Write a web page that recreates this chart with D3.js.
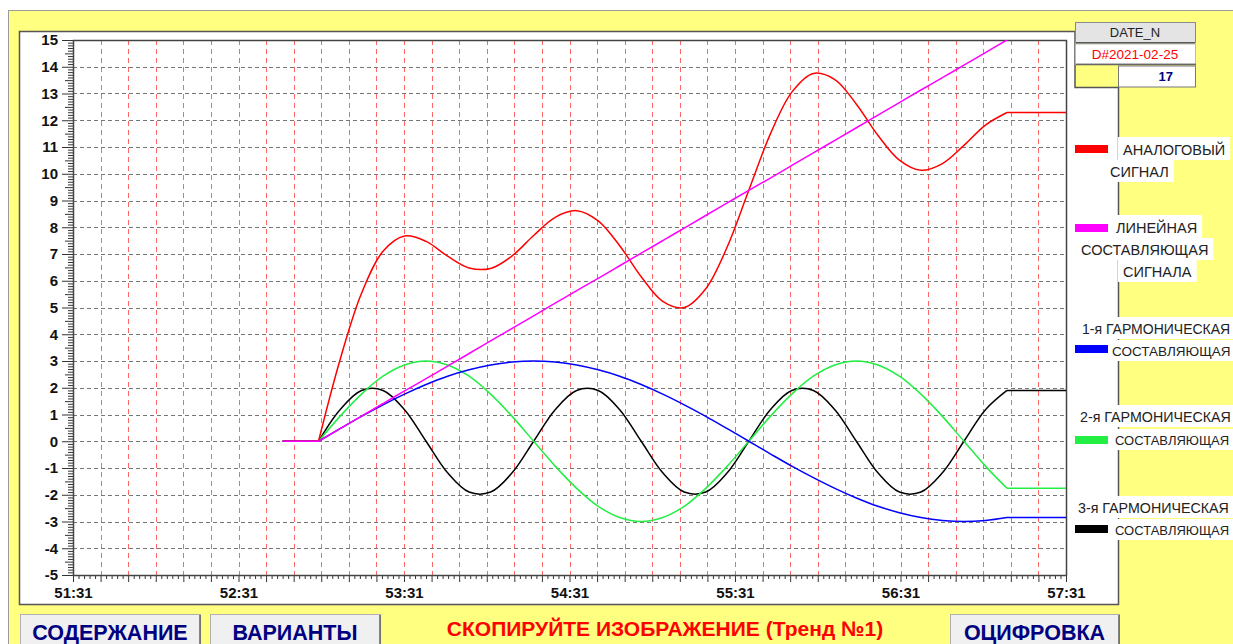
<!DOCTYPE html>
<html>
<head>
<meta charset="utf-8">
<script src="https://cdn.jsdelivr.net/npm/d3@7/dist/d3.min.js"></script>
<style>
  html, body { margin: 0; padding: 0; background: #ffffff; }
  svg { display: block; font-family: "Liberation Sans", Arial, sans-serif; }
</style>
</head>
<body>
<svg id="chart" width="1233" height="644"></svg>
<script>
// ---- data (seconds after 51:31) ----
const timeSec = [89, 96.8, 104.6, 112.4, 120.2, 128, 135.8, 143.6, 151.4, 159.2, 167, 174.8, 182.6, 190.4, 198.2, 206, 213.8, 221.6, 229.4, 237.2, 245, 252.8, 260.6, 268.4, 276.2, 284, 291.8, 299.6, 307.4, 315.2, 323, 330.8, 338.6];
const analog = [0, 3.04, 5.53, 7.10, 7.67, 7.47, 6.92, 6.48, 6.46, 6.93, 7.69, 8.37, 8.62, 8.24, 7.31, 6.15, 5.23, 5.00, 5.70, 7.27, 9.38, 11.48, 13.05, 13.75, 13.52, 12.60, 11.44, 10.51, 10.13, 10.38, 11.06, 11.82, 12.29];
const linear = [0, 0.47, 0.94, 1.41, 1.88, 2.34, 2.81, 3.28, 3.75, 4.22, 4.69, 5.16, 5.63, 6.09, 6.56, 7.03, 7.50, 7.97, 8.44, 8.91, 9.38, 9.84, 10.31, 10.78, 11.25, 11.72, 12.19, 12.66, 13.13, 13.59, 14.06, 14.53, 15.00];
const harm1 = [0, 0.47, 0.93, 1.36, 1.76, 2.12, 2.43, 2.67, 2.85, 2.96, 3.00, 2.96, 2.85, 2.67, 2.43, 2.12, 1.76, 1.36, 0.93, 0.47, 0, -0.47, -0.93, -1.36, -1.76, -2.12, -2.43, -2.67, -2.85, -2.96, -3.00, -2.96, -2.85];
const harm2 = [0, 0.93, 1.76, 2.43, 2.85, 3.00, 2.85, 2.43, 1.76, 0.93, 0, -0.93, -1.76, -2.43, -2.85, -3.00, -2.85, -2.43, -1.76, -0.93, 0, 0.93, 1.76, 2.43, 2.85, 3.00, 2.85, 2.43, 1.76, 0.93, 0, -0.93, -1.76];
const harm3 = [0, 1.18, 1.90, 1.90, 1.18, 0, -1.18, -1.90, -1.90, -1.18, 0, 1.18, 1.90, 1.90, 1.18, 0, -1.18, -1.90, -1.90, -1.18, 0, 1.18, 1.90, 1.90, 1.18, 0, -1.18, -1.90, -1.90, -1.18, 0, 1.18, 1.90];
const leadInStart = 76;
const holdEnd = 360;
const xTickLabels = ["51:31", "52:31", "53:31", "54:31", "55:31", "56:31", "57:31"];
const yTickLabels = ["-5","-4","-3","-2","-1","0","1","2","3","4","5","6","7","8","9","10","11","12","13","14","15"];

const seriesList = [
  { name: "harm3", values: harm3, color: "#000000", hold: true },
  { name: "harm2", values: harm2, color: "#22ee44", hold: true },
  { name: "harm1", values: harm1, color: "#0000ff", hold: true },
  { name: "analog", values: analog, color: "#ff0000", hold: true },
  { name: "linear", values: linear, color: "#ff00ff", hold: false }
];

const legendItems = [
  { color: "#ff0000", swatchY: 149, lines: [{ t: "АНАЛОГОВЫЙ", x: 1123, y: 155 }, { t: "СИГНАЛ", x: 1110, y: 177 }] },
  { color: "#ff00ff", swatchY: 228, lines: [{ t: "ЛИНЕЙНАЯ", x: 1116, y: 233 }, { t: "СОСТАВЛЯЮЩАЯ", x: 1081, y: 255 }, { t: "СИГНАЛА", x: 1123, y: 277 }] },
  { color: "#0000ff", swatchY: 349, lines: [{ t: "1-я ГАРМОНИЧЕСКАЯ", x: 1082, y: 334 }, { t: "СОСТАВЛЯЮЩАЯ", x: 1112, y: 356 }] },
  { color: "#22ee44", swatchY: 440, lines: [{ t: "2-я ГАРМОНИЧЕСКАЯ", x: 1080, y: 422 }, { t: "СОСТАВЛЯЮЩАЯ", x: 1115, y: 445 }] },
  { color: "#000000", swatchY: 529, lines: [{ t: "3-я ГАРМОНИЧЕСКАЯ", x: 1078, y: 513 }, { t: "СОСТАВЛЯЮЩАЯ", x: 1115, y: 535 }] }
];

// ---- layout ----
const svg = d3.select("#chart");
const W = 1233, H = 644;
const plot = { left: 73, right: 1066, top: 40, bottom: 575 };

// background
svg.append("rect").attr("x", 0).attr("y", 0).attr("width", W).attr("height", H).attr("fill", "#ffffff");
svg.append("rect").attr("x", 8.5).attr("y", 10.5).attr("width", W).attr("height", H).attr("fill", "#ffff80").attr("stroke", "#9a9a9a").attr("stroke-width", 1);

// white panel (with notch at top-right for DATE_N box)
svg.append("path")
  .attr("d", "M19.5,31.5 H1075 V87.5 H1118.5 V604.5 H19.5 Z")
  .attr("fill", "#ffffff").attr("stroke", "#555555").attr("stroke-width", 1.5);

const x = d3.scaleLinear().domain([0, 360]).range([plot.left, plot.right]);
const y = d3.scaleLinear().domain([-5, 15]).range([plot.bottom, plot.top]);

// grid
const g = svg.append("g");
g.selectAll("line.vg").data(d3.range(10, 360, 10)).join("line")
  .attr("x1", d => Math.round(x(d)) + 0.5).attr("x2", d => Math.round(x(d)) + 0.5)
  .attr("y1", plot.top).attr("y2", plot.bottom)
  .attr("stroke", "#ff6666").attr("stroke-width", 1).attr("stroke-dasharray", "5,4");
g.selectAll("line.hg").data(d3.range(-4, 15, 1)).join("line")
  .attr("x1", plot.left).attr("x2", plot.right)
  .attr("y1", d => Math.round(y(d)) + 0.5).attr("y2", d => Math.round(y(d)) + 0.5)
  .attr("stroke", "#777777").attr("stroke-width", 1).attr("stroke-dasharray", "4,3");

// axes
function styleAxis(sel) {
  sel.select(".domain").remove();
  sel.selectAll("line").attr("stroke", "#333").attr("stroke-width", 1);
}
const yMinor = d3.range(-50, 151, 1).map(v => v / 10).filter(v => Math.abs(v * 2 - Math.round(v * 2)) > 1e-6);
const yHalf = d3.range(-4.5, 15, 1);
const yMajor = d3.range(-5, 16, 1);
svg.append("g").attr("transform", `translate(${plot.left},0)`)
  .call(d3.axisLeft(y).tickValues(yMinor).tickSize(5).tickFormat(""))
  .call(styleAxis);
svg.append("g").attr("transform", `translate(${plot.left},0)`)
  .call(d3.axisLeft(y).tickValues(yHalf).tickSize(8).tickFormat(""))
  .call(styleAxis);
svg.append("g").attr("transform", `translate(${plot.left},0)`)
  .call(d3.axisLeft(y).tickValues(yMajor).tickSize(11).tickPadding(4).tickFormat((d, i) => yTickLabels[i]))
  .call(styleAxis)
  .call(s => s.selectAll("text").attr("font-size", 15).attr("font-weight", "bold").attr("fill", "#111"));

const xMinor = d3.range(0, 361, 2).filter(v => v % 10 !== 0);
const xMid = d3.range(10, 360, 10).filter(v => v % 60 !== 0);
const xMajor = d3.range(0, 361, 60);
svg.append("g").attr("transform", `translate(0,${plot.bottom})`)
  .call(d3.axisBottom(x).tickValues(xMinor).tickSize(4).tickFormat(""))
  .call(styleAxis);
svg.append("g").attr("transform", `translate(0,${plot.bottom})`)
  .call(d3.axisBottom(x).tickValues(xMid).tickSize(7).tickFormat(""))
  .call(styleAxis);
svg.append("g").attr("transform", `translate(0,${plot.bottom})`)
  .call(d3.axisBottom(x).tickValues(xMajor).tickSize(7).tickPadding(5).tickFormat((d, i) => xTickLabels[i]))
  .call(styleAxis)
  .call(s => s.selectAll("text").attr("font-size", 15).attr("font-weight", "bold").attr("fill", "#111"));

// plot frame
svg.append("rect").attr("x", plot.left + 0.5).attr("y", plot.top + 0.5)
  .attr("width", plot.right - plot.left).attr("height", plot.bottom - plot.top)
  .attr("fill", "none").attr("stroke", "#444").attr("stroke-width", 1.5);

// clip
svg.append("clipPath").attr("id", "clip").append("rect")
  .attr("x", plot.left).attr("y", plot.top).attr("width", plot.right - plot.left).attr("height", plot.bottom - plot.top);
const lines = svg.append("g").attr("clip-path", "url(#clip)");

const curveLine = d3.line().x(d => x(d[0])).y(d => y(d[1])).curve(d3.curveCatmullRom.alpha(0.5));
const straight = d3.line().x(d => x(d[0])).y(d => y(d[1]));
const lastT = timeSec[timeSec.length - 1];

seriesList.forEach(s => {
  const pts = timeSec.map((t, i) => [t, s.values[i]]);
  lines.append("path").attr("d", straight([[leadInStart, s.values[0]], [timeSec[0], s.values[0]]]))
    .attr("fill", "none").attr("stroke", s.color).attr("stroke-width", 1.5);
  lines.append("path").attr("d", curveLine(pts))
    .attr("fill", "none").attr("stroke", s.color).attr("stroke-width", 1.5);
  if (s.hold) {
    const lv = s.values[s.values.length - 1];
    lines.append("path").attr("d", straight([[lastT, lv], [holdEnd, lv]]))
      .attr("fill", "none").attr("stroke", s.color).attr("stroke-width", 1.5);
  }
});

// legend
const lg = svg.append("g").attr("fill", "#222");
legendItems.forEach(item => {
  item.lines.forEach(l => {
    const t = lg.append("text").attr("x", l.x).attr("y", l.y).attr("font-size", 14.5).text(l.t);
    let fs = 14.5;
    while (t.node().getBBox().x + t.node().getBBox().width > W - 2 && fs > 9) {
      fs -= 0.25;
      t.attr("font-size", fs);
    }
    const bb = t.node().getBBox();
    lg.insert("rect", "text").attr("x", bb.x - 5).attr("y", bb.y - 4).attr("width", bb.width + 10).attr("height", bb.height + 6).attr("fill", "#ffffff");
  });
});
legendItems.forEach(item => {
  svg.append("rect").attr("x", 1075).attr("y", item.swatchY - 4).attr("width", 33).attr("height", 8).attr("fill", item.color);
});

// DATE_N box
svg.append("rect").attr("x", 1075.5).attr("y", 22.5).attr("width", 120).attr("height", 20).attr("fill", "#e4e4e4").attr("stroke", "#8a8a8a");
svg.append("line").attr("x1", 1076).attr("x2", 1195).attr("y1", 43).attr("y2", 43).attr("stroke", "#444").attr("stroke-width", 1.5);
svg.append("text").attr("x", 1135).attr("y", 37).attr("text-anchor", "middle").attr("font-size", 13).attr("fill", "#222").text("DATE_N");
svg.append("rect").attr("x", 1075.5).attr("y", 44).attr("width", 120).attr("height", 20).attr("fill", "#ffffff").attr("stroke", "#bbbbbb");
svg.append("line").attr("x1", 1076).attr("x2", 1196).attr("y1", 64.5).attr("y2", 64.5).attr("stroke", "#666").attr("stroke-width", 1.5);
svg.append("text").attr("x", 1135).attr("y", 59).attr("text-anchor", "middle").attr("font-size", 13.5).attr("fill", "#ff0000").text("D#2021-02-25");
svg.append("rect").attr("x", 1118.5).attr("y", 66).attr("width", 77).attr("height", 21).attr("fill", "#ffffff").attr("stroke", "#777");
svg.append("text").attr("x", 1173).attr("y", 81).attr("text-anchor", "end").attr("font-size", 13).attr("font-weight", "bold").attr("fill", "#000080").text("17");

// bottom buttons
const buttons = [
  { t: "СОДЕРЖАНИЕ", x: 20, w: 180 },
  { t: "ВАРИАНТЫ", x: 210, w: 170 },
  { t: "ОЦИФРОВКА", x: 950, w: 169 }
];
buttons.forEach(b => {
  svg.append("rect").attr("x", b.x + 0.5).attr("y", 614.5).attr("width", b.w).attr("height", 40)
    .attr("fill", "#f0f0f0").attr("stroke", "#b0b0b0").attr("stroke-width", 1);
  svg.append("line").attr("x1", b.x + b.w).attr("x2", b.x + b.w).attr("y1", 615).attr("y2", 644).attr("stroke", "#606060").attr("stroke-width", 1.5);
  svg.append("text").attr("x", b.x + b.w / 2).attr("y", 640).attr("text-anchor", "middle")
    .attr("font-size", 21.5).attr("font-weight", "bold").attr("fill", "#000080").text(b.t);
});
svg.append("text").attr("x", 665).attr("y", 636).attr("text-anchor", "middle")
  .attr("font-size", 21).attr("font-weight", "bold").attr("fill", "#ff0000").text("СКОПИРУЙТЕ ИЗОБРАЖЕНИЕ (Тренд №1)");
</script>
</body>
</html>
